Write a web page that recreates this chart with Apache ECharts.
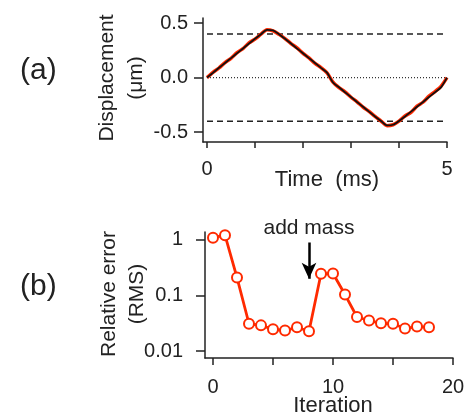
<!DOCTYPE html>
<html>
<head>
<meta charset="utf-8">
<script src="https://cdn.jsdelivr.net/npm/echarts@6/dist/echarts.min.js"></script>
<style>
  html, body { margin: 0; padding: 0; background: #fff; }
  #chart { width: 468px; height: 419px; }
</style>
</head>
<body>
<div id="chart"></div>
<script>
// Panel (a): displacement trace (measured, red) and fitted waveform (black)
const timeMs = [0, 0.125, 0.25, 0.375, 0.5, 0.625, 0.75, 0.875, 1.0, 1.125, 1.25, 1.375, 1.5, 1.625, 1.75, 1.875,
  2.0, 2.125, 2.25, 2.375, 2.5, 2.625, 2.75, 2.875, 3.0, 3.125, 3.25, 3.375, 3.5, 3.625, 3.75, 3.875,
  4.0, 4.125, 4.25, 4.375, 4.5, 4.625, 4.75, 4.875, 5.0];
const measuredUm = [0.0, 0.048, 0.088, 0.138, 0.176, 0.228, 0.266, 0.318, 0.352, 0.398, 0.438, 0.428, 0.396, 0.358, 0.312, 0.272,
  0.222, 0.180, 0.130, 0.092, 0.044, -0.042, -0.092, -0.130, -0.180, -0.222, -0.270, -0.310, -0.356, -0.398, -0.440, -0.432,
  -0.398, -0.352, -0.318, -0.262, -0.226, -0.170, -0.128, -0.080, 0.0];
const fittedUm = [0.0, 0.045, 0.09, 0.134, 0.178, 0.223, 0.267, 0.312, 0.356, 0.398, 0.438, 0.432, 0.398, 0.356, 0.312, 0.267,
  0.223, 0.178, 0.134, 0.089, 0.045, -0.045, -0.089, -0.134, -0.178, -0.223, -0.267, -0.312, -0.356, -0.398, -0.438, -0.432,
  -0.398, -0.356, -0.312, -0.267, -0.223, -0.178, -0.134, -0.089, 0.0];
const limitUm = 0.4;
const timeTicks = [0, 1, 2, 3, 4, 5];
const timeLabels = [0, 5];
const dispTicks = [-0.5, 0, 0.5];

// Panel (b): relative RMS error per iteration
const iterations = [0, 1, 2, 3, 4, 5, 6, 7, 8, 9, 10, 11, 12, 13, 14, 15, 16, 17, 18];
const relError = [1.10, 1.22, 0.21, 0.031, 0.029, 0.0247, 0.0234, 0.0268, 0.0227, 0.246, 0.249, 0.104,
  0.041, 0.0355, 0.0316, 0.031, 0.0254, 0.0276, 0.0268];
const iterTicks = [0, 5, 10, 15, 20];
const iterLabels = [0, 10, 20];
const errTicks = [0.01, 0.1, 1];
const massIteration = 8;

const FONT = '"Liberation Sans", Arial, sans-serif';
const INK = '#222';
const RED = '#ff2a00';

const chart = echarts.init(document.getElementById('chart'), null, { renderer: 'canvas' });

const axisCommon = {
  axisLine: { show: true, onZero: false, lineStyle: { color: INK, width: 1.5 } },
  axisTick: { show: true, inside: false, lineStyle: { color: INK, width: 1.5 } },
  splitLine: { show: false },
  axisLabel: { color: INK, fontFamily: FONT, fontSize: 20 }
};

const option = {
  animation: false,
  backgroundColor: '#fff',
  grid: [
    { left: 203, top: 18, width: 244, height: 124 },
    { left: 205, top: 232, width: 248, height: 126 }
  ],
  xAxis: [
    {
      gridIndex: 0, type: 'value', min: -1 / 12, max: 5,
      ...axisCommon,
      axisTick: { ...axisCommon.axisTick, length: 6, customValues: timeTicks },
      axisLabel: { ...axisCommon.axisLabel, margin: 17, customValues: timeLabels }
    },
    {
      gridIndex: 1, type: 'value', min: -2 / 3, max: 20,
      ...axisCommon,
      axisTick: { ...axisCommon.axisTick, length: 7, customValues: iterTicks },
      axisLabel: { ...axisCommon.axisLabel, margin: 19, customValues: iterLabels }
    }
  ],
  yAxis: [
    {
      gridIndex: 0, type: 'value', min: -0.59, max: 0.546,
      ...axisCommon,
      axisTick: { ...axisCommon.axisTick, length: 9, customValues: dispTicks },
      axisLabel: { ...axisCommon.axisLabel, margin: 15, customValues: dispTicks,
        formatter: v => v.toFixed(1) }
    },
    {
      gridIndex: 1, type: 'log', logBase: 10, min: 0.0075, max: 1.39,
      ...axisCommon,
      axisTick: { ...axisCommon.axisTick, length: 9, customValues: errTicks },
      axisLabel: { ...axisCommon.axisLabel, margin: 22, customValues: errTicks,
        formatter: v => String(+v.toPrecision(1)) }
    }
  ],
  series: [
    {
      type: 'line', xAxisIndex: 0, yAxisIndex: 0, symbol: 'none', silent: true,
      data: [[0, 0], [5, 0]],
      lineStyle: { color: '#333', width: 1.2, type: [1, 2] }
    },
    {
      type: 'line', xAxisIndex: 0, yAxisIndex: 0, symbol: 'none', silent: true,
      data: [[0, limitUm], [5, limitUm]],
      lineStyle: { color: INK, width: 1.5, type: [6, 4] }
    },
    {
      type: 'line', xAxisIndex: 0, yAxisIndex: 0, symbol: 'none', silent: true,
      data: [[0, -limitUm], [5, -limitUm]],
      lineStyle: { color: INK, width: 1.5, type: [6, 4] }
    },
    {
      type: 'line', xAxisIndex: 0, yAxisIndex: 0, symbol: 'none', smooth: 0.25,
      data: timeMs.map((t, i) => [t, measuredUm[i]]),
      lineStyle: { color: RED, width: 3.5 }
    },
    {
      type: 'line', xAxisIndex: 0, yAxisIndex: 0, symbol: 'none', smooth: 0.25,
      data: timeMs.map((t, i) => [t, fittedUm[i]]),
      lineStyle: { color: '#111', width: 1.8 }
    },
    {
      type: 'line', xAxisIndex: 1, yAxisIndex: 1,
      data: iterations.map((n, i) => [n, relError[i]]),
      symbol: 'circle', symbolSize: 10,
      itemStyle: { color: '#fff', borderColor: RED, borderWidth: 2 },
      lineStyle: { color: RED, width: 2.8 },
      z: 3,
      markLine: {
        silent: true,
        animation: false,
        symbol: ['none', 'arrow'],
        symbolSize: [11, 16],
        lineStyle: { color: '#000', width: 2.5, type: 'solid' },
        label: {
          show: true, position: 'start', formatter: 'add mass',
          color: INK, fontFamily: FONT, fontSize: 21, distance: 4
        },
        data: [[
          { coord: [massIteration, 0.9] },
          { coord: [massIteration, 0.2] }
        ]]
      }
    }
  ],
  graphic: [
    { type: 'text', left: 20, top: 56, style: { text: '(a)', font: '30px ' + FONT, fill: INK } },
    { type: 'text', left: 20, top: 272, style: { text: '(b)', font: '30px ' + FONT, fill: INK } },
    {
      type: 'text', x: 122, y: 78, rotation: Math.PI / 2,
      style: { text: 'Displacement\n(\u03bcm)', font: '21px ' + FONT, fill: INK,
        align: 'center', verticalAlign: 'middle', lineHeight: 29 }
    },
    {
      type: 'text', x: 123, y: 294, rotation: Math.PI / 2,
      style: { text: 'Relative error\n(RMS)', font: '21px ' + FONT, fill: INK,
        align: 'center', verticalAlign: 'middle', lineHeight: 28 }
    },
    {
      type: 'text', x: 327, y: 180,
      style: { text: 'Time  (ms)', font: '22px ' + FONT, fill: INK, align: 'center', verticalAlign: 'middle' }
    },
    {
      type: 'text', x: 333, y: 406,
      style: { text: 'Iteration', font: '22px ' + FONT, fill: INK, align: 'center', verticalAlign: 'middle' }
    }
  ]
};

chart.setOption(option);
</script>
</body>
</html>
